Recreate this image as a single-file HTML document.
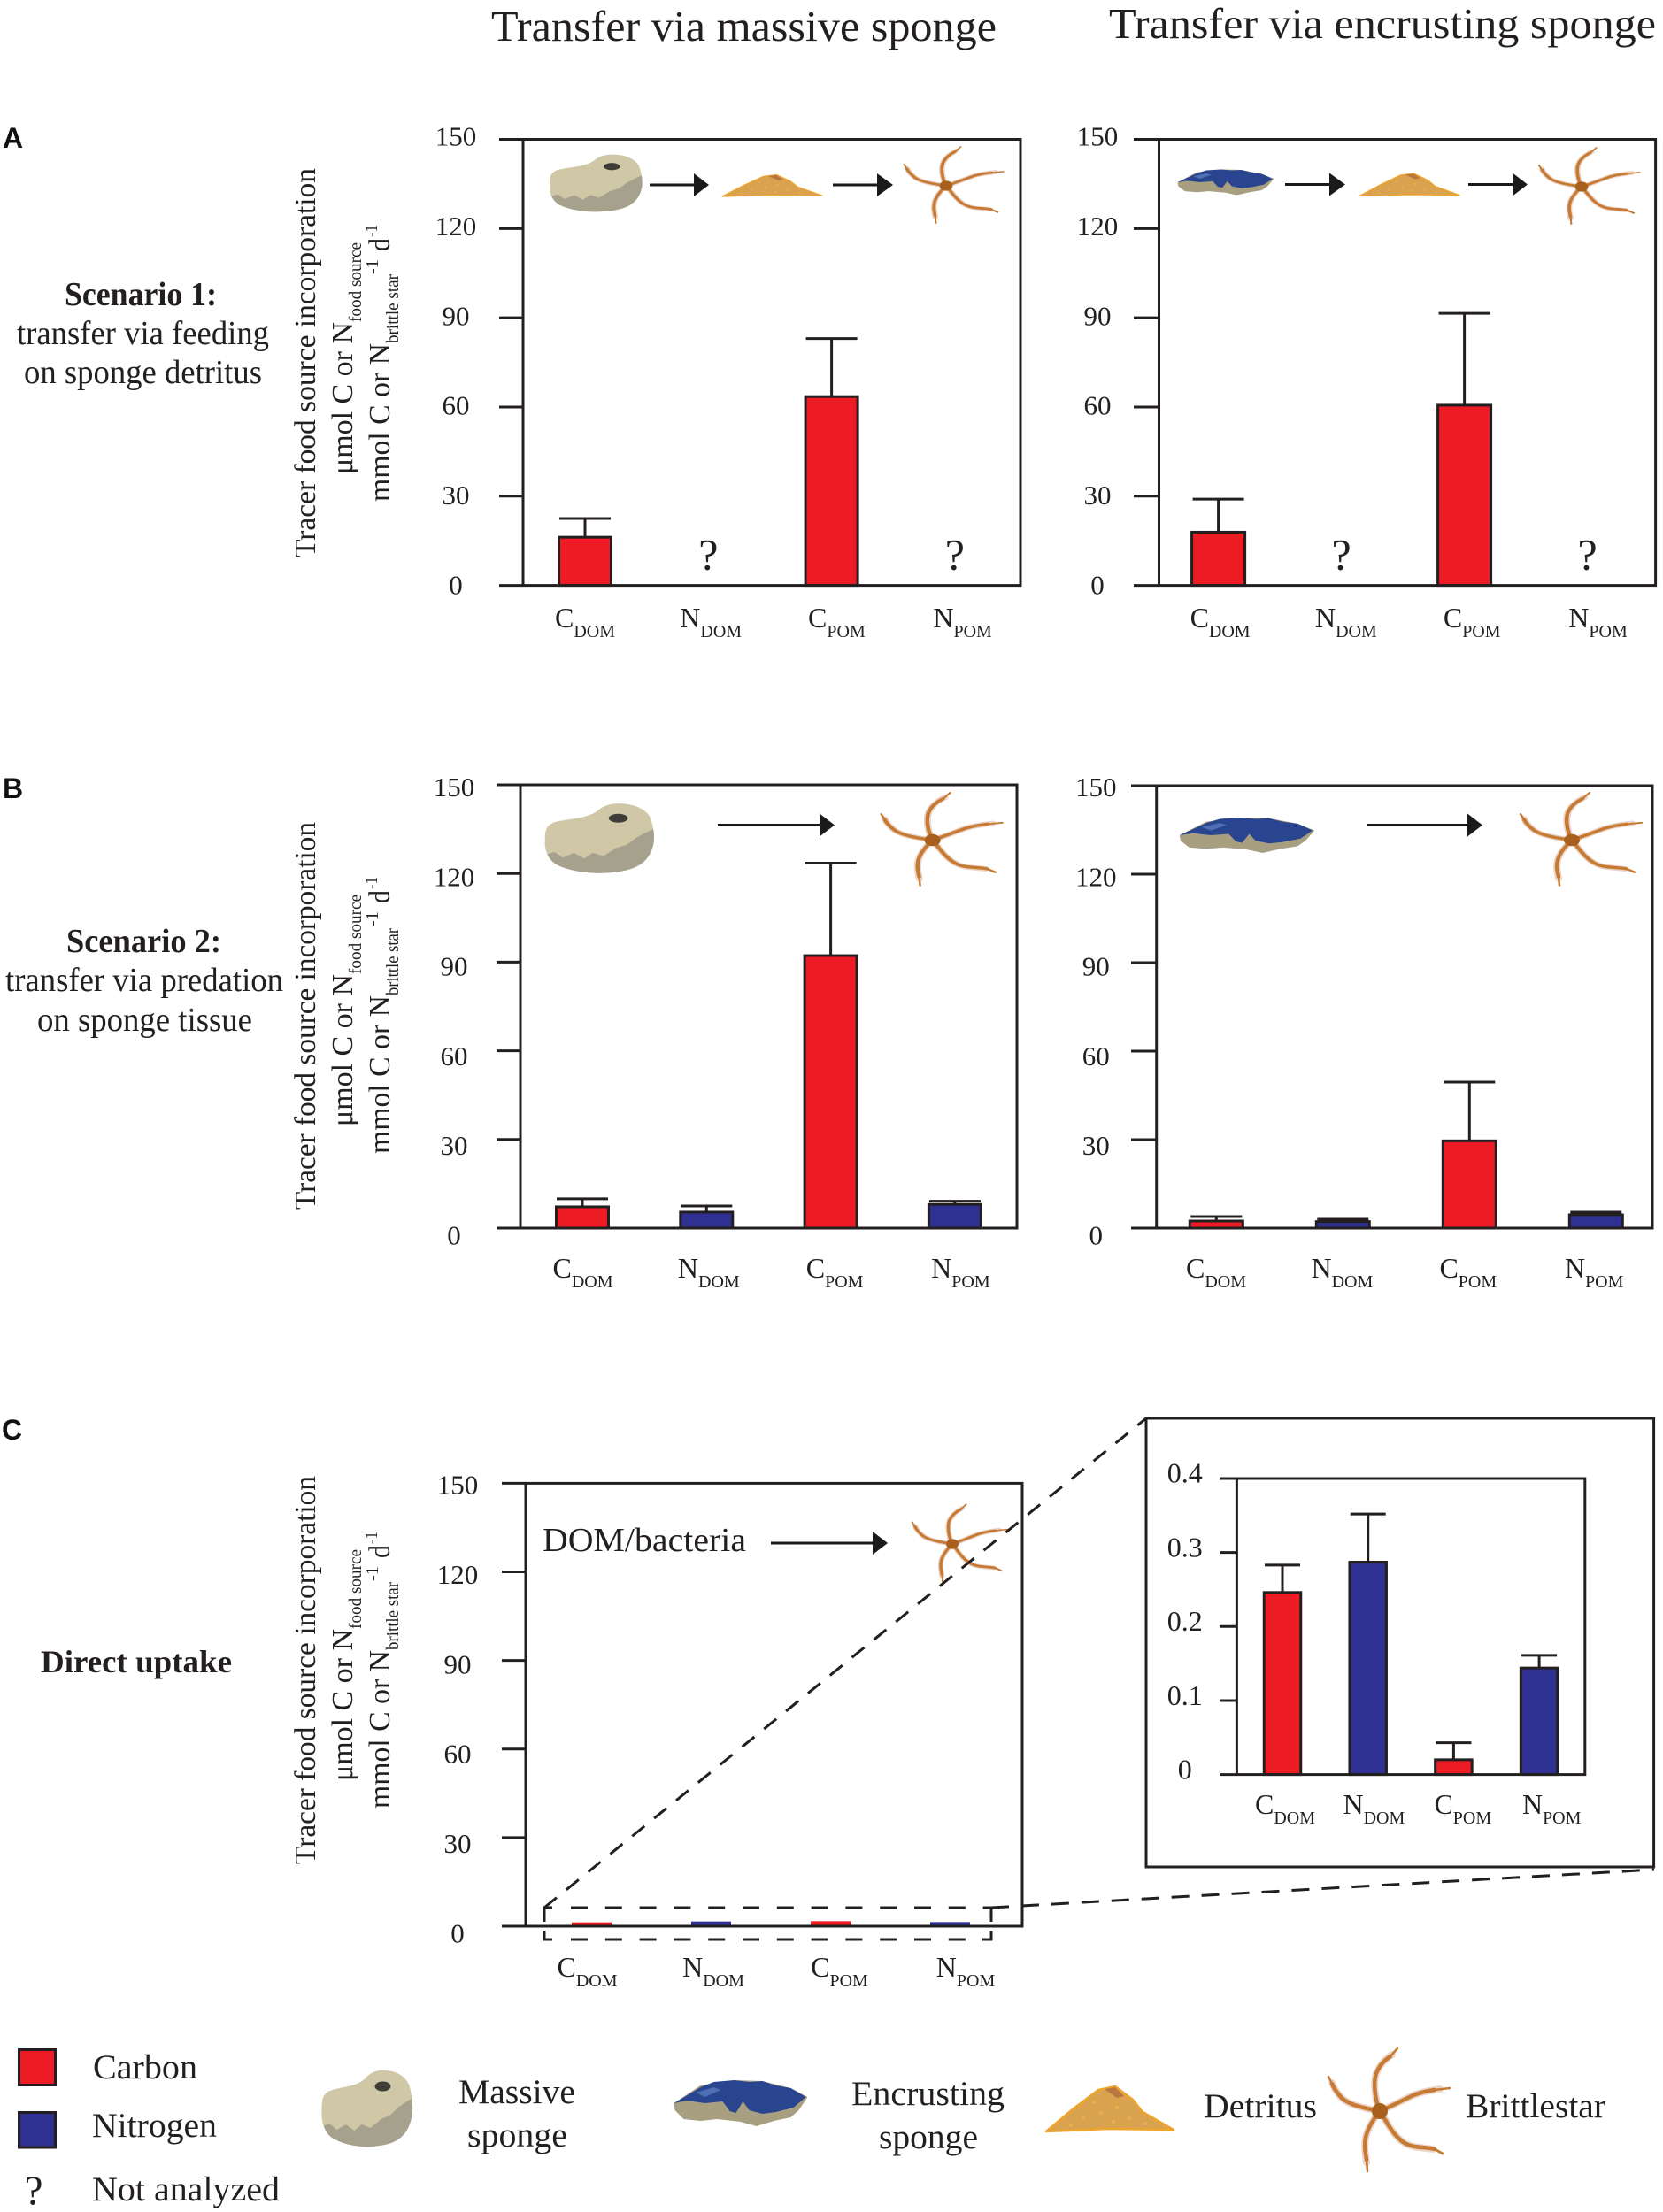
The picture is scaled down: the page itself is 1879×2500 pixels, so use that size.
<!DOCTYPE html>
<html lang="en">
<head>
<meta charset="utf-8">
<title>Tracer food source incorporation in brittle stars</title>
<style>
html,body{margin:0;padding:0;background:#fff;}
svg{display:block;}
text{font-family:"Liberation Serif","Times New Roman",serif;fill:#231f20;}
.panel-letter{font-family:"Liberation Sans",Arial,sans-serif;font-weight:700;font-size:32px;fill:#111;}
</style>
</head>
<body>
<svg id="figure" xmlns="http://www.w3.org/2000/svg" width="1879" height="2500" viewBox="0 0 1879 2500">
<defs>
  <g id="star">
    <g fill="none" stroke="#d8ab92" stroke-width="8" stroke-linecap="round" opacity=".5">
      <path d="M0 0C-6 -15 -8 -35 -3 -45C2 -55 8 -60 14 -64"/>
      <path d="M0 0C-15 -3 -32 -6 -42 -14C-48 -20 -52 -26 -54 -32"/>
      <path d="M0 0C12 -5 25 -12 38 -18C48 -22 56 -23 68 -25"/>
      <path d="M0 0C-8 10 -14 20 -16 30C-18 40 -16 50 -15 58"/>
      <path d="M0 0C8 12 15 28 28 36C38 42 50 41 60 43"/>
    </g>
    <g fill="none" stroke="#c67a33" stroke-linecap="round">
      <path stroke-width="4.5" d="M0 0C-6 -15 -8 -35 -3 -45C0 -52 6 -58 12 -62"/>
      <path stroke-width="2.5" d="M12 -62L20 -71"/>
      <path stroke-width="4.5" d="M0 0C-15 -3 -32 -6 -42 -14C-48 -20 -52 -26 -54 -31"/>
      <path stroke-width="2.5" d="M-54 -31L-58 -39"/>
      <path stroke-width="4.5" d="M0 0C12 -5 25 -12 38 -18C46 -21 54 -23 62 -24"/>
      <path stroke-width="2.5" d="M62 -24L79 -26"/>
      <path stroke-width="4.5" d="M0 0C-8 10 -14 20 -16 30C-18 40 -16 48 -15 55"/>
      <path stroke-width="2.5" d="M-15 55L-14 68"/>
      <path stroke-width="4.5" d="M0 0C8 12 15 28 28 36C38 42 50 40 62 43"/>
      <path stroke-width="3" d="M62 43L71 48"/>
    </g>
    <circle r="9" fill="#a9601f"/>
  </g>
  <clipPath id="sponge-clip"><path d="M0 -36C6 -42 14 -44 22 -43C36 -42 47 -34 49 -22C52 -10 53 5 49 16C44 32 32 40 14 42C-4 45 -24 42 -38 34C-48 28 -52 14 -51 2C-51 -10 -50 -16 -42 -20C-28 -25 -10 -24 0 -36Z"/></clipPath>
  <g id="massive">
    <path fill="#cfc7a6" d="M0 -36C6 -42 14 -44 22 -43C36 -42 47 -34 49 -22C52 -10 53 5 49 16C44 32 32 40 14 42C-4 45 -24 42 -38 34C-48 28 -52 14 -51 2C-51 -10 -50 -16 -42 -20C-28 -25 -10 -24 0 -36Z"/>
    <path clip-path="url(#sponge-clip)" fill="#a5a18d" d="M-55 22L-42 17L-34 24L-24 18L-14 25L-6 18L4 22L16 12L26 8L34 0L42 -6L55 -14L60 50L-60 50Z"/>
    <ellipse cx="18" cy="-25" rx="9" ry="5.5" fill="#3f3d38"/>
  </g>
  <g id="encrusting">
    <path fill="#a89f80" d="M-75 0L-45 -20L-7 -26L25 -25L57 -17L76 -7L66 8L57 16L38 20L18 26L0 21L-26 18L-45 20L-64 18L-74 8Z"/>
    <path fill="#2a4590" d="M-75 0L-45 -18L-30 -24L-7 -26L10 -24L25 -25L40 -20L57 -17L74 -7L60 5L40 10L25 12L10 8L3 -2L-5 11L-12 9L-20 -2L-40 0L-60 -3Z"/>
    <path fill="#4f6fb5" d="M-50 -12L-30 -18L-22 -15L-40 -7Z"/>
  </g>
  <g id="detritus">
    <path fill="#d9a24e" stroke="#eea52c" stroke-width="2.5" stroke-linejoin="round" d="M-72 25L-41 -1L-13 -22L6 -26L26 -11L37 3L72 23L-2 22Z"/>
    <path fill="#b9763f" d="M-6 -23L6 -25L16 -15L8 -13Z"/>
    <g fill="#eeb04c"><circle cx="-30" cy="10" r="1.8"/><circle cx="-10" cy="4" r="1.8"/><circle cx="8" cy="-2" r="1.8"/><circle cx="22" cy="10" r="1.8"/><circle cx="-18" cy="-8" r="1.8"/><circle cx="4" cy="14" r="1.8"/><circle cx="-44" cy="18" r="1.8"/><circle cx="40" cy="16" r="1.8"/></g>
  </g>
</defs>

<rect x="0" y="0" width="1879" height="2500" fill="#fff"/>

<text x="555" y="46" font-size="49" textLength="571" lengthAdjust="spacingAndGlyphs">Transfer via massive sponge</text>
<text x="1253" y="43" font-size="49" textLength="618" lengthAdjust="spacingAndGlyphs">Transfer via encrusting sponge</text>

<text class="panel-letter" x="3" y="167">A</text>
<text class="panel-letter" x="3" y="902">B</text>
<text class="panel-letter" x="2" y="1627">C</text>

<g font-size="38" text-anchor="start">
  <text x="73" y="345" font-weight="700" textLength="172" lengthAdjust="spacingAndGlyphs">Scenario 1:</text>
  <text x="19" y="389" textLength="285" lengthAdjust="spacingAndGlyphs">transfer via feeding</text>
  <text x="27" y="433" textLength="269" lengthAdjust="spacingAndGlyphs">on sponge detritus</text>
</g>
<g font-size="38">
  <text x="75" y="1076" font-weight="700" textLength="175" lengthAdjust="spacingAndGlyphs">Scenario 2:</text>
  <text x="6" y="1120" textLength="314" lengthAdjust="spacingAndGlyphs">transfer via predation</text>
  <text x="42" y="1165" textLength="243" lengthAdjust="spacingAndGlyphs">on sponge tissue</text>
</g>
<text x="46" y="1890" font-size="36" font-weight="700" textLength="216" lengthAdjust="spacingAndGlyphs">Direct uptake</text>

<!-- y axis titles -->
<g transform="translate(0,630)">
  <text transform="translate(356,0) rotate(-90)" font-size="34" textLength="440" lengthAdjust="spacingAndGlyphs">Tracer food source incorporation</text>
  <text transform="translate(398,-94) rotate(-90)" font-size="34" textLength="172" lengthAdjust="spacingAndGlyphs">μmol C or N</text>
  <text transform="translate(408,-266) rotate(-90)" font-size="20" textLength="90" lengthAdjust="spacingAndGlyphs">food source</text>
  <text transform="translate(440,-63) rotate(-90)" font-size="34" textLength="179" lengthAdjust="spacingAndGlyphs">mmol C or N</text>
  <text transform="translate(450,-242) rotate(-90)" font-size="20" textLength="78" lengthAdjust="spacingAndGlyphs">brittle star</text>
  <text transform="translate(427,-320) rotate(-90)" font-size="20" textLength="17" lengthAdjust="spacingAndGlyphs">-1</text>
  <text transform="translate(440,-346) rotate(-90)" font-size="34" textLength="15" lengthAdjust="spacingAndGlyphs">d</text>
  <text transform="translate(426,-362) rotate(-90)" font-size="20" textLength="14" lengthAdjust="spacingAndGlyphs">-1</text>
</g>
<g transform="translate(0,1367)">
  <text transform="translate(356,0) rotate(-90)" font-size="34" textLength="438" lengthAdjust="spacingAndGlyphs">Tracer food source incorporation</text>
  <text transform="translate(398,-94) rotate(-90)" font-size="34" textLength="172" lengthAdjust="spacingAndGlyphs">μmol C or N</text>
  <text transform="translate(408,-266) rotate(-90)" font-size="20" textLength="90" lengthAdjust="spacingAndGlyphs">food source</text>
  <text transform="translate(440,-63) rotate(-90)" font-size="34" textLength="179" lengthAdjust="spacingAndGlyphs">mmol C or N</text>
  <text transform="translate(450,-242) rotate(-90)" font-size="20" textLength="76" lengthAdjust="spacingAndGlyphs">brittle star</text>
  <text transform="translate(427,-320) rotate(-90)" font-size="20" textLength="17" lengthAdjust="spacingAndGlyphs">-1</text>
  <text transform="translate(440,-346) rotate(-90)" font-size="34" textLength="15" lengthAdjust="spacingAndGlyphs">d</text>
  <text transform="translate(426,-362) rotate(-90)" font-size="20" textLength="14" lengthAdjust="spacingAndGlyphs">-1</text>
</g>
<g transform="translate(0,2107)">
  <text transform="translate(356,0) rotate(-90)" font-size="34" textLength="439" lengthAdjust="spacingAndGlyphs">Tracer food source incorporation</text>
  <text transform="translate(398,-94) rotate(-90)" font-size="34" textLength="172" lengthAdjust="spacingAndGlyphs">μmol C or N</text>
  <text transform="translate(408,-266) rotate(-90)" font-size="20" textLength="90" lengthAdjust="spacingAndGlyphs">food source</text>
  <text transform="translate(440,-63) rotate(-90)" font-size="34" textLength="179" lengthAdjust="spacingAndGlyphs">mmol C or N</text>
  <text transform="translate(450,-242) rotate(-90)" font-size="20" textLength="77" lengthAdjust="spacingAndGlyphs">brittle star</text>
  <text transform="translate(427,-320) rotate(-90)" font-size="20" textLength="17" lengthAdjust="spacingAndGlyphs">-1</text>
  <text transform="translate(440,-346) rotate(-90)" font-size="34" textLength="15" lengthAdjust="spacingAndGlyphs">d</text>
  <text transform="translate(426,-362) rotate(-90)" font-size="20" textLength="14" lengthAdjust="spacingAndGlyphs">-1</text>
</g>

<g id="charts"></g>

<!-- pathway illustrations -->
<g>
  <use href="#massive" transform="translate(673,207) scale(1.02,.75)"/>
  <use href="#detritus" transform="translate(872.5,210) scale(.78,.48)"/>
  <use href="#star" transform="translate(1069,210) scale(.82,.62)"/>
</g>
<g>
  <use href="#encrusting" transform="translate(1384.6,206) scale(.72,.56)"/>
  <use href="#detritus" transform="translate(1592.5,209) scale(.78,.5)"/>
  <use href="#star" transform="translate(1787,211) scale(.83,.62)"/>
</g>
<g>
  <use href="#massive" transform="translate(677,947.5) scale(1.2,.91)"/>
  <use href="#star" transform="translate(1053.6,949.5) scale(1,.755)"/>
</g>
<g>
  <use href="#encrusting" transform="translate(1408.5,944) scale(1.01,.77)"/>
  <use href="#star" transform="translate(1776,949.5) scale(1,.755)"/>
</g>
<g>
  <use href="#star" transform="translate(1076,1745) scale(.78,.63)"/>
  <text x="613" y="1753" font-size="38" textLength="230" lengthAdjust="spacingAndGlyphs">DOM/bacteria</text>
</g>

<!-- arrows -->
<g fill="#1a1a1a" stroke="none">
  <path d="M734 207.5H784V196L801 209L784 222V210.5H734Z"/>
  <path d="M941 207.5H991V196L1009 209L991 222V210.5H941Z"/>
  <path d="M1452 207H1502V195.5L1520 208.5L1502 221.5V210H1452Z"/>
  <path d="M1659 207H1709V195.5L1726 208.5L1709 221.5V210H1659Z"/>
  <path d="M811 931H926V919.5L943 932.5L926 945.5V934H811Z"/>
  <path d="M1544 931H1658V919.5L1675 932.5L1658 945.5V934H1544Z"/>
  <path d="M871 1742.5H986V1731L1003 1744L986 1757V1745.5H871Z"/>
</g>

<!-- zoom callout -->
<g fill="none" stroke="#231f20" stroke-width="3">
  <rect x="1295" y="1603" width="573.6" height="507"/>
  <line x1="615" y1="2156" x2="1295" y2="1603" stroke-dasharray="18 14"/>
  <line x1="1120" y1="2156" x2="1869" y2="2113" stroke-dasharray="20 14"/>
  <g>
    <path d="M615 2172V2156H624M615 2182V2192H624M1120 2172V2156M1120 2182V2192H1110"/>
    <line x1="645" y1="2156" x2="1129" y2="2156" stroke-dasharray="19 19.8"/>
    <line x1="645" y1="2192" x2="1110" y2="2192" stroke-dasharray="19 19.8"/>
  </g>
</g>

<!-- legend -->
<g>
  <g>
    <rect x="21.5" y="2316.5" width="41" height="40" fill="#ed1c24" stroke="#231f20" stroke-width="3"/>
    <text x="105" y="2349" font-size="39" textLength="118" lengthAdjust="spacingAndGlyphs">Carbon</text>
  </g>
  <g>
    <rect x="21.5" y="2387.5" width="41" height="39.5" fill="#2e3192" stroke="#231f20" stroke-width="3"/>
    <text x="104" y="2415" font-size="39" textLength="141" lengthAdjust="spacingAndGlyphs">Nitrogen</text>
  </g>
  <g>
    <text x="38" y="2491" font-size="47" text-anchor="middle">?</text>
    <text x="104" y="2487" font-size="39" textLength="212" lengthAdjust="spacingAndGlyphs">Not analyzed</text>
  </g>
  <g>
    <use href="#massive" transform="translate(414.5,2383)"/>
    <text x="518" y="2377" font-size="39" textLength="132" lengthAdjust="spacingAndGlyphs">Massive</text>
    <text x="528" y="2426" font-size="39" textLength="113" lengthAdjust="spacingAndGlyphs">sponge</text>
  </g>
  <g>
    <use href="#encrusting" transform="translate(836.5,2377)"/>
    <text x="962" y="2379" font-size="39" textLength="173" lengthAdjust="spacingAndGlyphs">Encrusting</text>
    <text x="993" y="2428" font-size="39" textLength="112" lengthAdjust="spacingAndGlyphs">sponge</text>
  </g>
  <g>
    <use href="#detritus" transform="translate(1254,2384)"/>
    <text x="1360" y="2393" font-size="39" textLength="128" lengthAdjust="spacingAndGlyphs">Detritus</text>
  </g>
  <g>
    <use href="#star" transform="translate(1559,2386)"/>
    <text x="1656" y="2393" font-size="39" textLength="158" lengthAdjust="spacingAndGlyphs">Brittlestar</text>
  </g>
</g>
</svg>

<script>
// ---- chart data ----
const categoryLetters = ['C', 'N', 'C', 'N'];
const categorySubs = ['DOM', 'DOM', 'POM', 'POM'];
const mainTicks = [0, 30, 60, 90, 120, 150];
const mainTickLabels = ['0', '30', '60', '90', '120', '150'];
const insetTicks = [0, 0.1, 0.2, 0.3, 0.4];
const insetTickLabels = ['0', '0.1', '0.2', '0.3', '0.4'];

const a1Values = [16.2, null, 63.5, null];
const a1ErrorTops = [22.5, null, 83, null];
const a2Values = [17.9, null, 60.6, null];
const a2ErrorTops = [29, null, 91.5, null];
const b1Values = [7.2, 5.4, 92.2, 8];
const b1ErrorTops = [9.9, 7.5, 123.5, 9.1];
const b2Values = [2.4, 2.2, 29.6, 4.5];
const b2ErrorTops = [3.9, 3, 49.5, 5.4];
const cValues = [1.3, 1.6, 1.7, 1.4];
const cErrorTops = [null, null, null, null];
const insetValues = [0.246, 0.287, 0.02, 0.144];
const insetErrorTops = [0.283, 0.352, 0.043, 0.161];

const CARBON = '#ed1c24';
const NITROGEN = '#2e3192';
const INK = '#231f20';
const NS = 'http://www.w3.org/2000/svg';
const root = document.getElementById('charts');

function make(tag, attrs, parent) {
  const el = document.createElementNS(NS, tag);
  for (const k in attrs) el.setAttribute(k, attrs[k]);
  parent.appendChild(el);
  return el;
}

function drawPanel(id, L, values, errorTops, ticks, tickLabels) {
  const g = make('g', {}, root);
  
  

  const yScale = v => L.bottom - (v / L.max) * (L.bottom - L.top);
  const labelY = v => L.labelBottom - (v / L.max) * (L.labelBottom - L.labelTop);
  const xBar = i => L.barFirst + i * L.barStep;
  const xCat = i => L.catFirst + i * L.catStep;

  values.forEach((v, i) => {
    const cx = xBar(i);
    const color = categoryLetters[i] === 'C' ? CARBON : NITROGEN;
    if (v === null) {
      const q = make('text', {x: cx, y: L.bottom - 18, 'font-size': 50, 'text-anchor': 'middle'}, g);
      q.textContent = '?';
      
      
      return;
    }
    const top = errorTops[i];
    if (top !== null) {
      const err = make('path', {
        d: 'M' + cx + ' ' + yScale(v) + 'V' + yScale(top) + 'M' + (cx - L.capWidth / 2) + ' ' + yScale(top) + 'H' + (cx + L.capWidth / 2),
        fill: 'none', stroke: INK, 'stroke-width': 3
      }, g);
      
      
    }
    const bar = make('rect', {
      x: cx - L.barWidth / 2 + (L.barStroke / 2),
      y: yScale(v),
      width: L.barWidth - L.barStroke,
      height: L.bottom - yScale(v),
      fill: color,
      stroke: L.barStroke ? INK : 'none',
      'stroke-width': L.barStroke
    }, g);
    
    
  });

  const frame = make('rect', {x: L.left, y: L.top, width: L.right - L.left, height: L.bottom - L.top, fill: 'none', stroke: INK, 'stroke-width': 3}, g);
  
  

  ticks.forEach((t, i) => {
    const tick = make('line', {x1: L.tickLeft, x2: L.left, y1: yScale(t), y2: yScale(t), stroke: INK, 'stroke-width': 3}, g);
    
    
    const label = make('text', {x: L.labelX, y: labelY(t) + 9.5, 'font-size': L.tickSize, 'text-anchor': 'middle'}, g);
    label.textContent = tickLabels[i];
    
    
  });

  categoryLetters.forEach((letter, i) => {
    const t = make('text', {x: xCat(i), y: L.catBase, 'font-size': 32, 'text-anchor': 'middle'}, g);
    
    
    t.appendChild(document.createTextNode(letter));
    const sub = make('tspan', {'font-size': 20, dy: 11}, t);
    sub.textContent = categorySubs[i];
  });
}

drawPanel('a-massive', {left: 591, right: 1153, top: 157.5, bottom: 661.6, tickLeft: 564, max: 150, labelX: 515, labelTop: 155, labelBottom: 662, tickSize: 31, barFirst: 661, barStep: 139.3, barWidth: 62, barStroke: 3, capWidth: 58, catFirst: 661, catStep: 142.2, catBase: 709}, a1Values, a1ErrorTops, mainTicks, mainTickLabels);
drawPanel('a-encrusting', {left: 1309.5, right: 1870.6, top: 157.5, bottom: 661.6, tickLeft: 1281, max: 150, labelX: 1240, labelTop: 155, labelBottom: 662, tickSize: 31, barFirst: 1376.6, barStep: 139, barWidth: 63, barStroke: 3, capWidth: 58, catFirst: 1378.6, catStep: 142.3, catBase: 709}, a2Values, a2ErrorTops, mainTicks, mainTickLabels);
drawPanel('b-massive', {left: 588, right: 1149, top: 887, bottom: 1388, tickLeft: 561, max: 150, labelX: 513, labelTop: 890.5, labelBottom: 1397, tickSize: 31, barFirst: 658, barStep: 140.3, barWidth: 62, barStroke: 3, capWidth: 58, catFirst: 658.5, catStep: 142.3, catBase: 1444}, b1Values, b1ErrorTops, mainTicks, mainTickLabels);
drawPanel('b-encrusting', {left: 1306.7, right: 1867, top: 888, bottom: 1388, tickLeft: 1278, max: 150, labelX: 1238.3, labelTop: 890.5, labelBottom: 1397, tickSize: 31, barFirst: 1374.3, barStep: 143, barWidth: 63, barStroke: 3, capWidth: 58, catFirst: 1374, catStep: 142.4, catBase: 1444}, b2Values, b2ErrorTops, mainTicks, mainTickLabels);
drawPanel('c-direct', {left: 594, right: 1155, top: 1676.4, bottom: 2177, tickLeft: 567, max: 150, labelX: 517, labelTop: 1679, labelBottom: 2186, tickSize: 31, barFirst: 668.5, barStep: 135, barWidth: 45, barStroke: 0, capWidth: 40, catFirst: 663.5, catStep: 142.5, catBase: 2234}, cValues, cErrorTops, mainTicks, mainTickLabels);
drawPanel('c-inset', {left: 1397.4, right: 1790.8, top: 1671, bottom: 2005.6, tickLeft: 1378, max: 0.4, labelX: 1338.7, labelTop: 1666, labelBottom: 2001, tickSize: 32, barFirst: 1449, barStep: 96.7, barWidth: 44.5, barStroke: 3, capWidth: 40, catFirst: 1452, catStep: 100.4, catBase: 2050}, insetValues, insetErrorTops, insetTicks, insetTickLabels);
</script>
</body>
</html>
